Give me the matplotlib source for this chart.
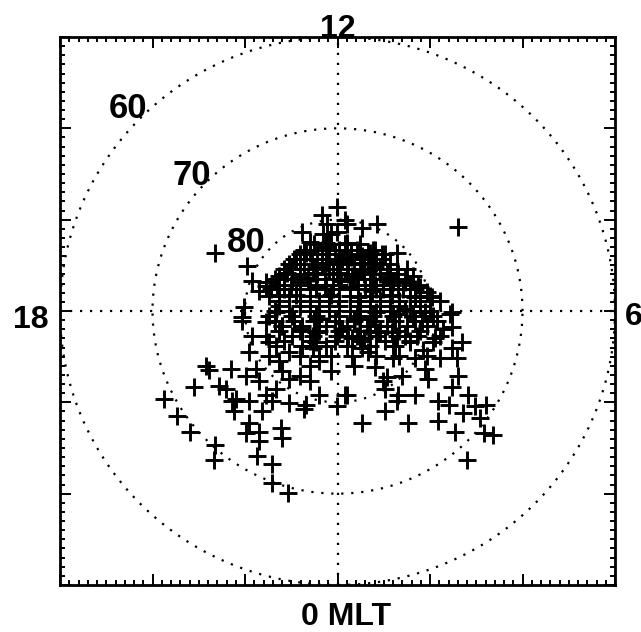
import numpy as np
import matplotlib
matplotlib.use("Agg")
import matplotlib.pyplot as plt
from matplotlib.ticker import MultipleLocator

# Event positions in degrees from the magnetic pole:
# x points toward dawn (06 MLT), y points toward noon (12 MLT).
x_deg = [
    -13.2, -9.8, -9.2, -7.7, -8.5, -3.8, -1.7, -0.1, 0.8, 2.7, 4.3, 13.0, -1.1,
    6.4, 7.5, 8.7, 10.2, 12.4, -10.1, -10.3, -10.3, -9.6, -7.7, -9.2, -7.4, -6.0,
    -6.6, -5.2, -6.3, -14.2, -13.9, -11.5, -9.9, -8.8, -12.8, -15.5, -12.1, -8.5,
    -6.6, -5.2, -4.1, -6.0, -7.7, -2.0, -18.8, -3.0, -2.0, -3.8, -2.3, -3.8, -2.0,
    -11.0, -17.4, -15.9, -13.2, -13.4, -11.2, -11.4, -9.6, -9.9, -8.5, -8.5, -8.7,
    -7.1, -7.1, -5.4, -6.1, -6.0, -8.2, -9.6, -5.2, -3.6, -7.1, -0.1, 2.6, 5.1,
    6.4, 7.6, 10.9, 12.0, 13.6, 14.9, 16.0, 15.4, 12.7, 15.8, 16.8, 14.0, 10.9,
    12.2, 12.4, 13.5, 12.9, 10.5, 9.2, 8.4, 9.5, 9.8, 12.4, 13.0, 14.1, 8.4, 6.5,
    5.1, 5.3, 7.0, 4.0, 1.8, 3.3, 6.0, 6.2, 7.3, 5.9, 4.3, 2.9, 1.1, 9.1, 9.5, 7.3,
    -0.7, -0.7, 0.8, 11.4, 7.8, 4.9, 2.6, 1.6, 0.5, 3.5, 2.4, 4.2, 6.7, -2.3, -2.7,
    -3.0, -3.4, 1.0, 11.1, 10.3, 12.4,
    1.0, -0.1, -4.5, -4.9, -6.3, -7.7, -3.0, -1.2, 1.0, 3.5, 4.2, 5.3, 2.4, 0.5,
    -1.2, -2.7, -0.1, 1.6, 3.5, 6.0, -4.1, -1.2, 1.3, 4.2, 7.1, 8.9, 9.7, 2.6, 4.8,
    3.8, 0.8, -0.7, -1.1, 8.2, 7.3, 5.4, 4.0, 2.9, 0.0, 1.5, 0.4, 1.8, 3.7, 5.9,
    8.4, -0.7, 2.2, -5.5, -4.1, -2.3, -6.3, -4.5, -2.3, -1.2, -3.0, -1.6, -3.4,
    -7.4, -5.2, -3.0, -0.9, 1.3, 3.5, 5.7, 7.8, 10.0,
    -6.3, -4.1, -2.0, 0.2, 2.4, 4.6, 6.7, 8.9,
    -7.4, -4.9, -2.3, 0.2, 2.1, 3.8, 6.0, 8.2, 10.3,
    -6.0, -3.8, -1.2, 1.0, 3.2, 5.3, 7.5, 9.7,
    -7.7, -4.9, -2.7, -0.1, 2.1, 4.2, 6.4, 8.6, 11.1,
    -6.6, -3.8, -1.2, 1.0, 3.5, 6.0,
    -7.4, -4.1, -2.0, 1.6, 4.2, 6.7, 9.7,
    -2.5, -0.9, 0.8, 2.4,
    -4.1, -2.2, -0.3, 1.5, 3.3, 5.1,
    -5.2, -3.6, -1.7, 0.2, 1.8, 3.7, 5.7,
    -5.8, -4.1, -2.2, -0.5, 1.1, 2.9, 4.6, 6.5,
    -6.5, -5.0, -3.0, -1.4, 0.2, 2.2, 4.0, 5.9, 7.8,
    -3.6, -1.7, 0.2, 2.1, 4.0,
    -4.7, -2.8, -0.9, 1.1, 2.9, 4.8,
    -5.8, -4.1, -2.5, -0.9, 1.0, 2.7, 4.6, 6.4,
    -6.8, -4.9, -3.2, -1.4, 0.3, 2.1, 3.8, 5.7, 7.3,
    -7.2, -5.8, -4.1, -2.3, -0.5, 1.3, 3.0, 4.9, 6.5, 8.4,
    -6.3, -4.1, -2.0, 0.2, 2.4, 4.6, 6.7, 8.9, 11.1,
    -6.8, -5.2, -3.0, -0.9, 1.3, 3.5, 5.7, 7.8, 10.0,
    -6.8, -4.7, -2.5, -0.3, 1.8, 4.0, 6.2, 8.4, 10.8,
    -6.3, -4.1, -2.0, 0.2, 2.4, 4.6, 6.7, 8.9,
    -5.8, -3.0, -0.3, 2.4, 5.1, 7.8,
]
y_deg = [
    6.4, 4.9, 3.3, 3.2, 2.2, 8.7, 10.5, 11.4, 10.0, 9.1, 9.5, 9.2, 9.5,
    6.4, 4.6, 2.9, 1.5, -0.1, 0.4, -1.1, -0.7, -4.5, -1.2, -2.7, -3.4, -1.6,
    -0.1, -4.5, -5.5, -6.0, -6.5, -6.3, -7.1, -6.3, -8.2, -8.3, -8.5, -7.7,
    -8.5, -7.4, -7.1, -6.6, -9.2, -9.2, -9.6, -6.0, -5.5, -3.8, -3.4, -2.0, -0.9,
    -9.6, -11.5, -13.2, -14.7, -16.3, -11.0, -9.9, -12.3, -13.4, -13.2, -14.2, -15.9,
    -16.8, -18.8, -19.9, -12.8, -13.9, -10.9, -9.9, -10.1, -10.7, -9.9, -10.4, -12.3, -11.0,
    -9.9, -12.3, -12.0, -10.3, -11.2, -10.4, -10.3, -11.7, -13.2, -13.4, -13.6, -16.3, -9.8,
    -0.3, -1.7, -3.4, -5.2, -3.0, -4.3, -5.2, -6.3, -7.4, -8.3, -7.1, -9.2, -9.2, -9.2,
    -8.5, -7.2, -7.1, -6.1, -6.0, -4.5, -5.2, -3.8, -2.7, -2.3, -2.3, -3.0, -2.7, -1.1, -0.1, 0.2,
    -4.9, -6.6, -9.2, -2.0, -3.4, -7.7, -4.1, -3.0, -2.0, -2.2, -0.9, -0.1, -0.3, -2.3, -4.1,
    -7.7, -10.3, -9.2, -5.2, -3.4, -4.1,
    9.5, 8.6, 5.7, 4.6, 3.8, 2.7, 6.4, 7.5, 7.5, 6.4, 5.3, 4.2, 5.3, 5.7,
    5.3, 4.2, 4.2, 3.8, 3.5, 3.2, 3.2, 2.9, 2.6, 2.4, 2.4, 2.6, 2.1, 6.0, 6.2,
    6.7, 7.3, 8.4, 7.0, 3.8, 3.2, 3.7, 4.8, 4.3, 5.4, 5.9, 3.3, 3.7, 2.2, 1.8,
    1.5, 1.8, 1.5, 4.2, 3.7, 4.8, 1.8, 1.8, 2.6, 7.3, 7.6, 8.4, 6.4,
    1.6, 1.6, 1.6, 1.6, 1.6, 1.6, 1.6, 1.6, 1.6,
    0.5, 0.5, 0.5, 0.5, 0.5, 0.5, 0.5, 0.5,
    -0.5, -0.5, -0.5, -0.5, -0.5, -0.5, -0.5, -0.5, -0.5,
    -1.6, -1.6, -1.6, -1.6, -1.6, -1.6, -1.6, -1.6,
    -2.7, -2.7, -2.7, -2.7, -2.7, -2.7, -2.7, -2.7, -2.7,
    -3.8, -3.8, -3.8, -3.8, -3.8, -3.8,
    -4.9, -4.9, -4.9, -4.9, -4.9, -4.9, -4.9,
    7.3, 7.3, 7.3, 7.3,
    6.2, 6.2, 6.2, 6.2, 6.2, 6.2,
    5.1, 5.1, 5.1, 5.1, 5.1, 5.1, 5.1,
    4.0, 4.0, 4.0, 4.0, 4.0, 4.0, 4.0, 4.0,
    2.9, 2.9, 2.9, 2.9, 2.9, 2.9, 2.9, 2.9, 2.9,
    6.7, 6.7, 6.7, 6.7, 6.7,
    5.7, 5.7, 5.7, 5.7, 5.7, 5.7,
    4.6, 4.6, 4.6, 4.6, 4.6, 4.6, 4.6, 4.6,
    3.5, 3.5, 3.5, 3.5, 3.5, 3.5, 3.5, 3.5, 3.5,
    2.4, 2.4, 2.4, 2.4, 2.4, 2.4, 2.4, 2.4, 2.4, 2.4,
    1.1, 1.1, 1.1, 1.1, 1.1, 1.1, 1.1, 1.1, 1.1,
    0.0, 0.0, 0.0, 0.0, 0.0, 0.0, 0.0, 0.0, 0.0,
    -1.1, -1.1, -1.1, -1.1, -1.1, -1.1, -1.1, -1.1, -1.1,
    -2.2, -2.2, -2.2, -2.2, -2.2, -2.2, -2.2, -2.2,
    -3.3, -3.3, -3.3, -3.3, -3.3, -3.3,
]

# Latitude circles, their label positions, and MLT labels
lat_circles = [80, 70, 60]
lat_label_x = [-9.9, -15.8, -22.7]
lat_label_y = [6.5, 13.8, 21.1]
mlt_texts = ["12", "18", "6", "0 MLT"]

FONT = ["Liberation Sans", "DejaVu Sans"]
DOT = (0, (1, 3.5))

fig = plt.figure(figsize=(6.41, 6.32), dpi=100)
fig.patch.set_facecolor("white")
ax = fig.add_axes([60 / 641, 1 - 585 / 632, 555 / 641, 548 / 632])
ax.set_xlim(-30, 30)
ax.set_ylim(-30, 30)

# dotted grid: MLT meridians and latitude circles
ax.plot([-30, 30], [0, 0], color="black", lw=1.6, ls=DOT, zorder=1)
ax.plot([0, 0], [-30, 30], color="black", lw=1.6, ls=DOT, zorder=1)
theta = np.linspace(0, 2 * np.pi, 721)
for lat in lat_circles:
    r = 90 - lat
    ax.plot(r * np.cos(theta), r * np.sin(theta), color="black", lw=1.6,
            ls=DOT, zorder=1)

for lat, lx, ly in zip(lat_circles, lat_label_x, lat_label_y):
    ax.text(lx, ly, str(lat), ha="center", va="baseline", fontsize=25,
            family=FONT, weight="bold", zorder=2)

# event markers
ax.plot(x_deg, y_deg, ls="none", marker="+", ms=12.5, mew=2.1,
        color="black", zorder=3)

# MLT labels around the frame
ax.text(0, 30.0, mlt_texts[0], ha="center", va="baseline", fontsize=23,
        family=FONT, weight="bold", clip_on=False)
ax.text(-33.2, -1.9, mlt_texts[1], ha="center", va="baseline", fontsize=23,
        family=FONT, weight="bold", clip_on=False)
ax.text(31.1, -1.5, mlt_texts[2], ha="left", va="baseline", fontsize=23,
        family=FONT, weight="bold", clip_on=False)
ax.text(-3.9, -34.4, mlt_texts[3], ha="left", va="baseline", fontsize=23,
        family=FONT, weight="bold", clip_on=False)

# frame with inward ticks on every side
for sp in ax.spines.values():
    sp.set_linewidth(2.0)
ax.xaxis.set_major_locator(MultipleLocator(10))
ax.yaxis.set_major_locator(MultipleLocator(10))
ax.xaxis.set_minor_locator(MultipleLocator(1))
ax.yaxis.set_minor_locator(MultipleLocator(1))
ax.tick_params(which="both", direction="in", top=True, right=True,
               labelbottom=False, labelleft=False, width=1.4)
ax.tick_params(which="major", length=8)
ax.tick_params(which="minor", length=3.5)

fig.savefig("out.png", dpi=100, facecolor="white")
